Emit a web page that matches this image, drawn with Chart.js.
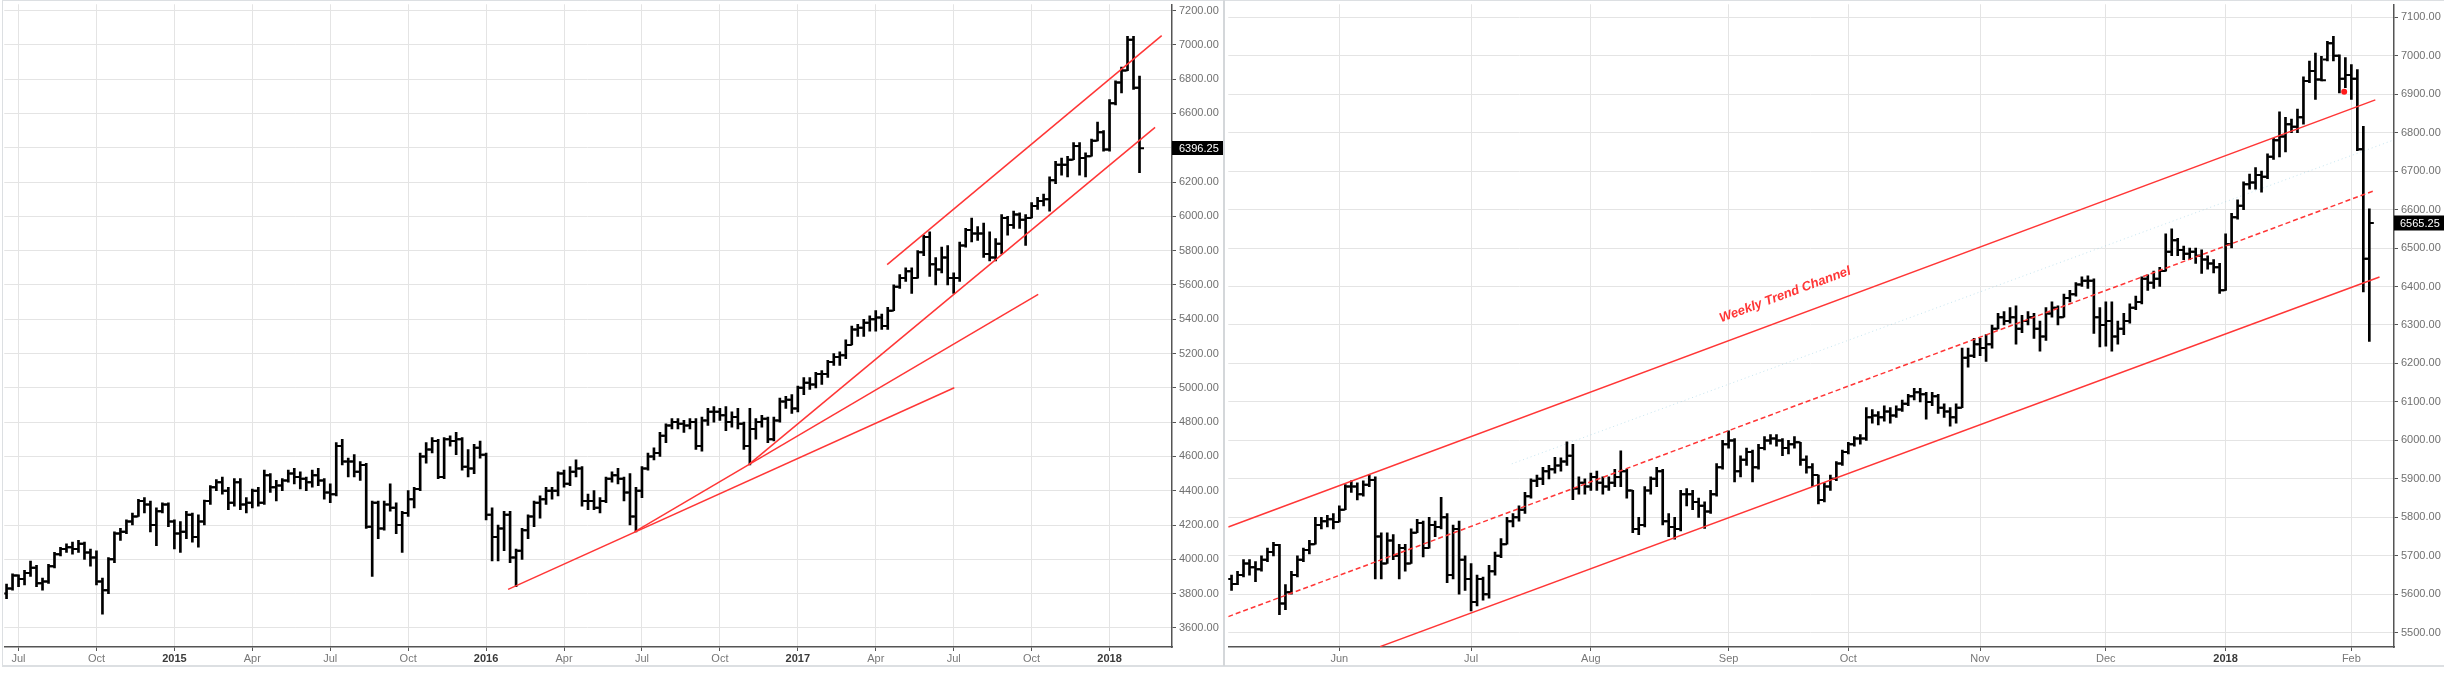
<!DOCTYPE html>
<html><head><meta charset="utf-8">
<script src="https://cdn.jsdelivr.net/npm/chart.js@4.4.1/dist/chart.umd.min.js"></script>
<style>
html,body{margin:0;padding:0;background:#fff;width:2444px;height:698px;overflow:hidden;position:relative;}
canvas{position:absolute;top:0;}
#c1{left:0;width:1223px;height:666px;}
#c2{left:1224px;width:1220px;height:666px;}
.fr{position:absolute;background:#dcdfe2;}
</style></head><body>
<canvas id="c1" width="1223" height="666"></canvas>
<canvas id="c2" width="1220" height="666"></canvas>
<div class="fr" style="left:2px;top:0;width:2442px;height:1px"></div>
<div class="fr" style="left:2px;top:0;width:1px;height:666px"></div>
<div class="fr" style="left:2px;top:665px;width:2442px;height:2px"></div>
<div class="fr" style="left:1223px;top:0;width:2px;height:666px;background:#d4d7da"></div>
<script>
// ---------- Weekly panel (index = week number, first bar = week of 23 Jun 2014) ----------
const W_TICK_POS = [2,15,28,41,54,67,80,93,106,119,132,145,158,171,184];
const W_TICK_LABELS = ['Jul','Oct','2015','Apr','Jul','Oct','2016','Apr','Jul','Oct','2017','Apr','Jul','Oct','2018'];
const W_Y_TICKS = [3600,3800,4000,4200,4400,4600,4800,5000,5200,5400,5600,5800,6000,6200,6400,6600,6800,7000,7200];
const W_OPEN = [3800,3830,3905,3885,3920,3950,3860,3870,3960,4030,4060,4070,4060,4090,4040,4010,3870,3820,4000,4150,4160,4220,4250,4340,4320,4200,4280,4320,
4220,4150,4160,4260,4130,4220,4340,4420,4450,4400,4330,4450,4320,4330,4400,4330,4490,4420,4430,4460,4500,4480,4470,4450,4490,4460,4390,4380,4660,4570,4570,4510,4550,4190,4330,4180,4320,4300,4200,4270,4350,4410,4600,4640,4690,4480,4700,4690,4700,4540,4530,4650,
4610,4260,4130,4180,4260,4010,4050,4170,4250,4330,4350,4400,4400,4500,4440,4510,4530,4340,4340,4300,4340,4470,4490,4470,4390,4250,4400,4530,4600,4620,4720,4780,4800,4790,4780,4800,4660,4810,4860,4860,4840,4800,4830,4790,4660,4760,4800,4820,4700,4810,4920,4930,
4880,5000,5030,5020,5080,5080,5150,5180,5190,5250,5340,5350,5380,5400,5410,5360,5450,5590,5640,5680,5640,5790,5880,5720,5690,5760,5640,5640,5830,5920,5900,5900,5780,5760,5840,5990,5950,6010,5980,5990,6060,6090,6100,6210,6300,6300,6330,6410,6340,6350,6440,6490,
6390,6660,6780,6850,7030,6750];
const W_HIGH = [3855,3915,3910,3935,3990,3965,3890,3970,4040,4070,4090,4100,4110,4100,4060,4050,3890,4010,4160,4180,4230,4270,4350,4360,4340,4300,4330,4330,
4230,4220,4280,4270,4260,4345,4430,4465,4480,4420,4470,4470,4360,4410,4420,4520,4500,4460,4470,4520,4530,4510,4480,4520,4530,4470,4440,4680,4700,4590,4610,4570,4560,4340,4340,4340,4440,4330,4280,4400,4420,4620,4680,4710,4700,4710,4720,4740,4710,4640,4670,4690,
4620,4300,4200,4280,4280,4060,4180,4260,4340,4370,4420,4420,4510,4520,4540,4580,4540,4380,4400,4360,4480,4510,4530,4480,4500,4420,4540,4620,4650,4740,4790,4820,4820,4810,4820,4820,4830,4880,4890,4880,4890,4860,4880,4800,4880,4820,4840,4830,4830,4940,4950,4960,
5010,5060,5060,5090,5100,5160,5200,5210,5280,5360,5370,5400,5420,5450,5430,5470,5600,5660,5700,5700,5800,5890,5910,5760,5820,5830,5670,5850,5930,5990,5940,5960,5910,5870,6010,6000,6030,6020,6010,6080,6110,6130,6230,6320,6340,6350,6430,6430,6370,6450,6550,6500,
6680,6790,6870,7050,7050,6818];
const W_LOW = [3770,3820,3840,3850,3900,3840,3820,3860,3950,4020,4040,4030,4040,4000,3960,3850,3680,3800,3980,4110,4150,4200,4250,4270,4160,4080,4270,4190,
4060,4040,4120,4100,4070,4200,4320,4400,4380,4290,4310,4290,4270,4300,4310,4320,4390,4340,4400,4450,4440,4410,4400,4420,4430,4350,4330,4370,4550,4480,4480,4460,4180,3900,4120,4170,4280,4150,4040,4250,4300,4400,4560,4620,4470,4470,4660,4610,4520,4480,4500,4590,
4230,3990,3990,4050,3980,3840,4000,4120,4190,4240,4320,4350,4370,4420,4430,4480,4310,4290,4290,4270,4330,4450,4440,4340,4200,4160,4360,4520,4580,4600,4680,4760,4760,4740,4760,4640,4630,4780,4800,4810,4750,4770,4760,4640,4550,4700,4770,4680,4690,4800,4880,4850,
4860,4960,4990,5000,5020,5060,5130,5130,5170,5250,5300,5300,5330,5330,5340,5340,5450,5580,5620,5550,5640,5770,5650,5600,5670,5600,5550,5620,5820,5850,5860,5760,5740,5740,5780,5890,5930,5930,5830,5990,6040,6060,6030,6190,6240,6230,6330,6240,6230,6350,6440,6380,
6380,6650,6720,6850,6740,6255];
const W_CLOSE = [3830,3905,3885,3920,3950,3860,3870,3960,4030,4060,4070,4060,4090,4040,4010,3870,3820,4000,4150,4160,4220,4250,4340,4320,4200,4280,4320,4220,
4150,4160,4260,4130,4220,4340,4420,4450,4400,4330,4450,4320,4330,4400,4330,4490,4420,4430,4460,4500,4480,4470,4450,4490,4460,4390,4380,4660,4570,4570,4510,4550,4190,4330,4180,4320,4300,4200,4270,4350,4410,4600,4640,4690,4480,4700,4690,4700,4540,4530,4650,4610,
4260,4130,4180,4260,4010,4050,4170,4250,4330,4350,4400,4400,4500,4440,4510,4530,4340,4340,4300,4340,4470,4490,4470,4390,4250,4400,4530,4600,4620,4720,4780,4800,4790,4780,4800,4660,4810,4860,4860,4840,4800,4830,4790,4660,4760,4800,4820,4700,4810,4920,4930,4880,
5000,5030,5020,5080,5080,5150,5180,5190,5250,5340,5350,5380,5400,5410,5360,5450,5590,5640,5680,5640,5790,5880,5720,5690,5760,5640,5640,5830,5920,5900,5900,5780,5760,5840,5990,5950,6010,5980,5990,6060,6090,6100,6210,6300,6300,6330,6410,6340,6350,6440,6490,6390,
6660,6780,6850,7030,6750,6396.25];
const W_LINE_A = [[146.9,5718],[192.7,7054]];
const W_LINE_B = [[123.75,4551],[191.6,6519]];
const W_LINE_C = [[104.75,4160],[172.1,5545]];
const W_LINE_D = [[83.67,3825],[158.1,5000]];

// ---------- Daily panel (index = trading day, first bar = 5 May 2017) ----------
const D_TICK_POS = [18,40,60,83,103,125,146,166,187];
const D_TICK_LABELS = ['Jun','Jul','Aug','Sep','Oct','Nov','Dec','2018','Feb'];
const D_Y_TICKS = [5500,5600,5700,5800,5900,6000,6100,6200,6300,6400,6500,6600,6700,6800,6900,7000,7100];
const D_OPEN = [5640,5627,5650,5680,5670,5665,5690,5710,5728,5576,5605,5650,5690,5715,5730,5780,5790,5795,5788,5820,5880,5880,5860,5885,5897,5750,5680,5740,5700,5720,
5680,5760,5785,5720,5780,5775,5800,5650,5770,5690,5640,5580,5640,5600,5660,5700,5730,5790,5800,5820,5855,5895,5900,5920,5925,5935,5945,5960,5875,5890,
5880,5905,5890,5880,5890,5905,5920,5870,5770,5780,5870,5900,5920,5790,5775,5770,5860,5860,5840,5830,5815,5860,5930,5990,6000,5920,5950,5970,5930,5980,
6000,6005,6000,5980,5990,5995,5950,5930,5910,5845,5880,5900,5940,5970,5990,6005,6005,6060,6065,6060,6075,6065,6080,6095,6115,6125,6120,6100,6115,6085,
6075,6060,6085,6215,6220,6250,6240,6250,6290,6320,6310,6320,6290,6310,6320,6290,6270,6330,6345,6320,6370,6380,6405,6415,6415,6320,6300,6310,6270,6290,
6310,6345,6360,6420,6410,6420,6440,6490,6520,6495,6485,6490,6480,6470,6460,6450,6390,6510,6580,6610,6666,6670,6690,6685,6737,6780,6790,6822,6815,6840,
6934,6960,6938,6990,7032,7000,6940,6950,6940,6757,6472];
const D_HIGH = [5650,5660,5690,5690,5685,5700,5720,5735,5730,5625,5660,5700,5720,5740,5800,5800,5805,5810,5830,5885,5895,5890,5895,5910,5905,5760,5760,5755,5730,5730,
5770,5795,5790,5800,5790,5852,5810,5780,5790,5700,5680,5650,5645,5675,5710,5745,5800,5810,5830,5865,5900,5910,5930,5935,5956,5955,5996,5990,5905,5900,
5915,5920,5905,5905,5925,5973,5925,5870,5800,5880,5905,5930,5925,5810,5800,5870,5875,5870,5850,5840,5870,5940,6000,6025,6005,5960,5980,5975,5990,6010,
6015,6015,6005,6000,6010,5995,5960,5940,5910,5890,5910,5945,5975,5995,6010,6015,6085,6080,6075,6090,6085,6090,6105,6120,6135,6135,6125,6125,6120,6095,
6085,6095,6240,6240,6265,6265,6275,6300,6330,6335,6345,6350,6325,6335,6330,6310,6345,6360,6350,6380,6390,6410,6425,6428,6420,6345,6360,6360,6310,6330,
6355,6375,6425,6430,6440,6450,6537,6550,6525,6505,6500,6500,6495,6480,6470,6460,6537,6590,6625,6672,6692,6709,6700,6745,6785,6854,6840,6835,6861,6945,
6986,7007,6998,7037,7050,7002,6995,6977,6964,6816,6602];
const D_LOW = [5610,5625,5645,5650,5633,5660,5685,5700,5547,5560,5600,5645,5685,5705,5730,5770,5775,5770,5788,5820,5865,5845,5855,5880,5640,5640,5680,5690,5640,5660,
5680,5760,5697,5720,5750,5770,5630,5640,5600,5610,5557,5570,5585,5590,5650,5695,5730,5775,5790,5810,5850,5880,5885,5900,5915,5920,5935,5846,5860,5860,
5870,5870,5860,5870,5880,5880,5850,5760,5755,5775,5860,5880,5780,5750,5743,5765,5830,5820,5800,5771,5810,5855,5925,5980,5892,5905,5935,5892,5925,5975,
5990,5985,5960,5965,5980,5935,5915,5880,5835,5840,5870,5895,5935,5965,5985,5990,6000,6045,6040,6050,6045,6060,6075,6090,6105,6100,6055,6090,6070,6060,
6037,6045,6085,6190,6215,6220,6205,6240,6290,6300,6305,6250,6280,6300,6265,6232,6260,6320,6300,6320,6360,6375,6400,6395,6278,6243,6245,6232,6250,6275,
6305,6340,6355,6390,6395,6400,6440,6480,6480,6470,6470,6460,6434,6445,6435,6382,6390,6500,6575,6600,6653,6653,6645,6680,6730,6737,6750,6800,6800,6822,
6930,6886,6934,6986,6986,6903,6917,6886,6753,6386,6257];
const D_CLOSE = [5627,5650,5680,5670,5665,5690,5710,5728,5576,5605,5650,5690,5715,5730,5780,5790,5795,5788,5820,5880,5880,5860,5885,5897,5750,5680,5740,5700,5720,5680,
5760,5785,5720,5780,5775,5800,5650,5770,5690,5640,5580,5640,5600,5660,5700,5730,5790,5800,5820,5855,5895,5900,5920,5925,5935,5945,5960,5875,5890,5880,
5905,5890,5880,5890,5905,5920,5870,5770,5780,5870,5900,5920,5790,5775,5770,5860,5860,5840,5830,5815,5860,5930,5990,6000,5920,5950,5970,5930,5980,6000,
6005,6000,5980,5990,5995,5950,5930,5910,5845,5880,5900,5940,5970,5990,6005,6005,6060,6065,6060,6075,6065,6080,6095,6115,6125,6120,6100,6115,6085,6075,
6060,6085,6215,6220,6250,6240,6250,6290,6320,6310,6320,6290,6310,6320,6290,6270,6330,6345,6320,6370,6380,6405,6415,6415,6320,6300,6310,6270,6290,6310,
6345,6360,6420,6410,6420,6440,6490,6520,6495,6485,6490,6480,6470,6460,6450,6390,6510,6580,6610,6666,6670,6690,6685,6737,6780,6790,6822,6815,6840,6934,
6960,6938,6936,7032,7000,6940,6950,6940,6757,6472,6565.25];
const D_UPPER = [[-0.55,5775],[191.0,6885]];
const D_MIDDLE = [[-0.55,5542],[190.8,6649]];
const D_LOWER = [[24.8,5464],[191.7,6424.5]];
const D_FAINT = [[46.8,5939],[194.1,6781]];
const D_MARKER = [[185.8,6906]];
const D_NOTE = {text:'Weekly Trend Channel', x:92.45, y:6378.5};

// ---------- helpers ----------
const FONT = '"Liberation Sans", Arial, Helvetica, sans-serif';
const RED = '#ff3636';

function ohlc(O,H,L,C,off){
  const idx = C.map((_,i)=>i);
  const tick = (arr, d) => ({type:'line', data: idx.map(i=>({x:i+d, y:arr[i]})), showLine:false,
    pointStyle:'line', pointRadius:2.25, pointHoverRadius:2.25, pointBorderWidth:2,
    pointBorderColor:'#000', pointBackgroundColor:'#000', order:1});
  return [
    tick(O, -off), tick(C, off),
    {type:'bar', data: idx.map(i=>({x:i, y:[L[i],H[i]]})), backgroundColor:'#000',
     barThickness:2, borderWidth:0, order:2}
  ];
}
function seg(pts, extra){
  return Object.assign({type:'line', data: pts.map(p=>({x:p[0],y:p[1]})), borderColor:RED,
    borderWidth:1.5, pointRadius:0, pointHoverRadius:0, fill:false, tension:0, order:0}, extra||{});
}
function scales(xmin,xmax,ymin,ymax,yticks,tpos,tlab,yw){
  const isYear = i => /^\d{4}$/.test(tlab[i]||'');
  const zeroPad = s => { s.paddingLeft=0; s.paddingRight=0; s.paddingTop=0; s.paddingBottom=0; };
  return {
    x:{type:'linear', position:'bottom', min:xmin, max:xmax, bounds:'data', offset:false,
      grid:{offset:false, color:'#e4e4e4', lineWidth:1, tickColor:'#555', tickLength:4},
      border:{display:true, color:'#555', width:1.5},
      afterBuildTicks: s => { s.ticks = tpos.map(v=>({value:v})); },
      afterFit: s => { s.height = 19; zeroPad(s); },
      ticks:{autoSkip:false, maxRotation:0, minRotation:0, padding:1,
        callback:(v,i)=>tlab[i],
        color: c => isYear(c.index) ? '#3a3a3a' : '#777',
        font: c => ({family:FONT, size:11, weight: isYear(c.index) ? 'bold' : 'normal'})}
    },
    y:{type:'linear', position:'right', min:ymin, max:ymax, bounds:'data',
      grid:{color:'#e4e4e4', lineWidth:1, tickColor:'#555', tickLength:4},
      border:{display:true, color:'#555', width:1.5},
      afterBuildTicks: s => { s.ticks = yticks.map(v=>({value:v})); },
      afterFit: s => { s.width = yw; zeroPad(s); },
      ticks:{autoSkip:false, padding:3, color:'#707070',
        font:{family:FONT, size:11}, callback: v => Number(v).toFixed(2)}
    }
  };
}
const priceTag = {
  id:'priceTag',
  afterDraw(chart, args, o){
    const {ctx, chartArea, scales:{y}} = chart;
    const py = Math.round(y.getPixelForValue(o.value));
    ctx.save();
    ctx.fillStyle = '#000';
    ctx.fillRect(chartArea.right, py - o.h/2, o.w, o.h);
    ctx.fillStyle = '#fff';
    ctx.font = '11px ' + FONT;
    ctx.textAlign = 'left'; ctx.textBaseline = 'middle';
    ctx.fillText(o.value.toFixed(2), chartArea.right + o.dx, py + 0.5);
    ctx.restore();
  }
};
const note = {
  id:'note',
  afterDatasetsDraw(chart, args, o){
    if(!o || !o.text) return;
    const {ctx, scales:{x,y}} = chart;
    const a = Math.atan2(y.getPixelForValue(o.ref[1][1]) - y.getPixelForValue(o.ref[0][1]),
                         x.getPixelForValue(o.ref[1][0]) - x.getPixelForValue(o.ref[0][0]));
    ctx.save();
    ctx.translate(x.getPixelForValue(o.x), y.getPixelForValue(o.y));
    ctx.rotate(a);
    ctx.font = 'italic bold 13px ' + FONT;
    ctx.fillStyle = RED;
    ctx.textAlign = 'center'; ctx.textBaseline = 'middle';
    ctx.fillText(o.text, 0, 0);
    ctx.restore();
  }
};
function baseOptions(padLeft, sc, tag, nt){
  return {
    responsive:false, animation:false, events:[],
    layout:{padding:{left:padLeft, top:1, right:0, bottom:0}},
    scales: sc,
    plugins:{legend:{display:false}, tooltip:{enabled:false}, priceTag: tag, note: nt || {}}
  };
}

// ---------- weekly chart ----------
new Chart(document.getElementById('c1'), {
  type:'bar',
  data:{datasets:[
    seg(W_LINE_A), seg(W_LINE_B), seg(W_LINE_C), seg(W_LINE_D),
    ...ohlc(W_OPEN,W_HIGH,W_LOW,W_CLOSE,0.375)
  ]},
  options: baseOptions(3, scales(-0.383,194.42,3488.6,7236.6,W_Y_TICKS,W_TICK_POS,W_TICK_LABELS,51),
    {value:W_CLOSE[W_CLOSE.length-1], w:51, h:14, dx:7}),
  plugins:[priceTag, note]
});

// ---------- daily chart ----------
new Chart(document.getElementById('c2'), {
  type:'bar',
  data:{datasets:[
    seg(D_UPPER), seg(D_MIDDLE,{borderDash:[5,3]}), seg(D_LOWER),
    seg(D_FAINT,{borderColor:'rgba(150,205,225,0.55)', borderWidth:1, borderDash:[1,3], order:3}),
    {type:'line', data:D_MARKER.map(p=>({x:p[0],y:p[1]})), showLine:false, pointRadius:3,
     pointHoverRadius:3, pointBackgroundColor:'#ff1a1a', pointBorderWidth:0, order:0},
    ...ohlc(D_OPEN,D_HIGH,D_LOW,D_CLOSE,0.375)
  ]},
  options: baseOptions(2, scales(-0.55,194.12,5463.0,7133.6,D_Y_TICKS,D_TICK_POS,D_TICK_LABELS,50),
    {value:D_CLOSE[D_CLOSE.length-1], w:50, h:15, dx:6},
    {text:D_NOTE.text, x:D_NOTE.x, y:D_NOTE.y, ref:D_UPPER}),
  plugins:[priceTag, note]
});
</script>
</body></html>
